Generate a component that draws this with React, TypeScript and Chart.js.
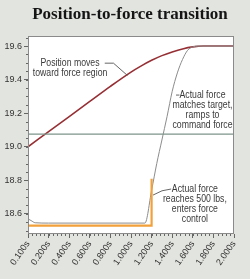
import React, { useEffect, useRef } from "react";
import { Chart, registerables } from "chart.js";
Chart.register(...registerables);

const titleText = "Position-to-force transition";

const xTickValues = [0, 0.2, 0.4, 0.6, 0.8, 1.0, 1.2, 1.4, 1.6, 1.8, 2.0];
const xTickLabels = ["0.100s", "0.200s", "0.400s", "0.600s", "0.800s", "1.000s", "1.200s", "1.400s", "1.600s", "1.800s", "2.000s"];
const yTickValues = [18.6, 18.8, 19.0, 19.2, 19.4, 19.6];
const yTickLabels = ["18.6", "18.8", "19.0", "19.2", "19.4", "19.6"];

const positionTime = [0, 0.2, 0.4, 0.6, 0.8, 1.0, 1.1, 1.2, 1.3, 1.4, 1.5, 1.6, 1.7, 2.0];
const positionValue = [19.0, 19.09, 19.18, 19.27, 19.36, 19.445, 19.482, 19.515, 19.543, 19.565, 19.583, 19.595, 19.6, 19.6];

const targetTime = [0, 2.0];
const targetValue = [19.075, 19.075];

const forceTime = [0, 0.03, 0.07, 0.2, 1.135, 1.2, 1.25, 1.3, 1.35, 1.4, 1.45, 1.5, 1.55, 1.6, 1.65, 2.0];
const forceValue = [18.57, 18.56, 18.547, 18.545, 18.545, 18.74, 18.9, 19.04, 19.18, 19.33, 19.44, 19.52, 19.575, 19.595, 19.6, 19.6];

const controlTime = [0, 1.2, 1.2];
const controlValue = [18.53, 18.53, 18.81];

const note1 = ["Position moves", "toward force region"];
const note2 = ["Actual force", "matches target,", "ramps to", "command force"];
const note3 = ["Actual force", "reaches 500 lbs,", "enters force", "control"];

const BG = "#e2e4df";
const NOTE_FONT = "10.5px 'Liberation Sans', Arial, sans-serif";
const TICK_FONT_FAMILY = "'Liberation Sans', Arial, sans-serif";

const pts = (xs: number[], ys: number[]) => xs.map((x, i) => ({ x, y: ys[i] }));

const decorPlugin = {
  id: "decor",
  beforeDraw(chart: any) {
    const { ctx, chartArea: a } = chart;
    ctx.save();
    ctx.fillStyle = "#ffffff";
    ctx.fillRect(a.left, a.top, a.right - a.left, a.bottom - a.top);
    ctx.restore();
  },
  afterDraw(chart: any) {
    const { ctx, chartArea: a } = chart;
    const xs = chart.scales.x;
    const ys = chart.scales.y;
    const px = (t: number) => xs.getPixelForValue(t);
    const py = (v: number) => ys.getPixelForValue(v);
    ctx.save();
    // border
    ctx.strokeStyle = "#8a8a8a";
    ctx.lineWidth = 1;
    ctx.strokeRect(Math.round(a.left) + 0.5, Math.round(a.top) + 0.5, Math.round(a.right - a.left) - 1, Math.round(a.bottom - a.top) - 1);
    // minor ticks
    ctx.strokeStyle = "#666";
    ctx.beginPath();
    for (let i = 0; i <= 50; i++) {
      const t = i * 0.04;
      const x = Math.round(px(t)) + 0.5;
      ctx.moveTo(x, a.bottom);
      ctx.lineTo(x, a.bottom + 2);
    }
    for (let i = 0; i < 40; i++) {
      const v = 18.5 + i * 0.05;
      if (v > 19.66) break;
      const y = Math.round(py(v)) + 0.5;
      ctx.moveTo(a.left - 2, y);
      ctx.lineTo(a.left, y);
    }
    ctx.stroke();
    // title
    ctx.fillStyle = "#151515";
    ctx.font = "bold 17px 'Liberation Serif', 'DejaVu Serif', serif";
    ctx.textAlign = "center";
    ctx.textBaseline = "alphabetic";
    ctx.fillText(titleText, 130, 18.5);
    // notes (condensed)
    ctx.font = NOTE_FONT;
    ctx.fillStyle = "#3a3a3a";
    ctx.textBaseline = "middle";
    ctx.textAlign = "center";
    const drawNote = (lines: string[], t: number, v0: number) => {
      lines.forEach((s, i) => {
        ctx.save();
        ctx.translate(px(t), py(v0) + i * 10);
        ctx.scale(0.83, 1);
        ctx.fillText(s, 0, 0);
        ctx.restore();
      });
    };
    drawNote(note1, 0.408, 19.498);
    drawNote(note2, 1.694, 19.308);
    drawNote(note3, 1.62, 18.748);
    // leaders
    ctx.strokeStyle = "#555";
    ctx.lineWidth = 0.9;
    ctx.beginPath();
    ctx.moveTo(px(0.745), py(19.498));
    ctx.lineTo(px(0.83), py(19.498));
    ctx.lineTo(px(0.965), py(19.425));
    ctx.moveTo(px(1.437), py(19.308));
    ctx.lineTo(px(1.47), py(19.308));
    ctx.moveTo(px(1.39), py(18.748));
    ctx.quadraticCurveTo(px(1.30), py(18.745), px(1.214), py(18.712));
    ctx.stroke();
    ctx.restore();
  },
};

export default function App() {
  const ref = useRef<HTMLCanvasElement | null>(null);
  useEffect(() => {
    document.body.style.margin = "0";
    document.body.style.background = BG;
    const canvas = ref.current!;
    const chart = new Chart(canvas, {
      type: "line",
      data: {
        datasets: [
          {
            label: "Target",
            data: pts(targetTime, targetValue),
            borderColor: "#7c948a",
            borderWidth: 1.2,
            pointRadius: 0,
            tension: 0,
          },
          {
            label: "Control",
            data: pts(controlTime, controlValue),
            borderColor: "#f2a13a",
            borderWidth: 2.2,
            pointRadius: 0,
            tension: 0,
          },
          {
            label: "Force",
            data: pts(forceTime, forceValue),
            borderColor: "#8c8c8c",
            borderWidth: 1,
            pointRadius: 0,
            cubicInterpolationMode: "monotone",
          },
          {
            label: "Position",
            data: pts(positionTime, positionValue),
            borderColor: "#962f34",
            borderWidth: 1.6,
            pointRadius: 0,
            cubicInterpolationMode: "monotone",
          },
        ],
      },
      options: {
        responsive: false,
        animation: false,
        events: [],
        layout: { padding: { top: 36, right: 16, left: 0, bottom: 0 } },
        plugins: { legend: { display: false }, tooltip: { enabled: false }, title: { display: false } },
        scales: {
          x: {
            type: "linear",
            min: 0,
            max: 2.0,
            afterBuildTicks: (s: any) => {
              s.ticks = xTickValues.map((v) => ({ value: v }));
            },
            afterFit: (s: any) => {
              s.height = 45;
              s.paddingLeft = 0;
              s.paddingRight = 0;
            },
            grid: { display: true, drawOnChartArea: false, drawTicks: true, tickLength: 4, color: "#666" },
            border: { display: false },
            ticks: {
              autoSkip: false,
              minRotation: 55,
              maxRotation: 55,
              padding: 1,
              color: "#333",
              font: { family: TICK_FONT_FAMILY, size: 9 },
              callback: (_v: any, i: number) => xTickLabels[i],
            },
          },
          y: {
            type: "linear",
            min: 18.48,
            max: 19.66,
            afterBuildTicks: (s: any) => {
              s.ticks = yTickValues.map((v) => ({ value: v }));
            },
            afterFit: (s: any) => {
              s.width = 28;
            },
            grid: { display: true, drawOnChartArea: false, drawTicks: true, tickLength: 4, color: "#666" },
            border: { display: false },
            ticks: {
              padding: 2,
              color: "#333",
              font: { family: TICK_FONT_FAMILY, size: 9 },
              callback: (_v: any, i: number) => yTickLabels[i],
            },
          },
        },
      },
      plugins: [decorPlugin],
    } as any);
    return () => chart.destroy();
  }, []);
  return (
    <div style={{ position: "fixed", left: 0, top: 0, width: 250, height: 279, background: BG }}>
      <canvas ref={ref} width={250} height={279} style={{ display: "block", width: 250, height: 279 }} />
    </div>
  );
}
